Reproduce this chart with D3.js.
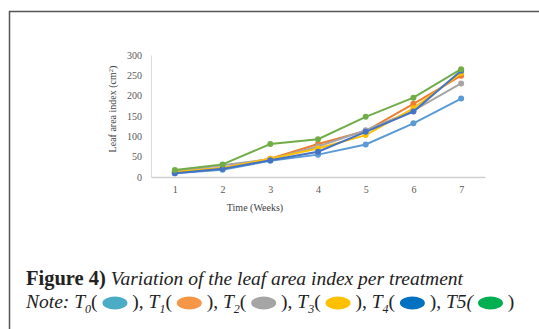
<!DOCTYPE html>
<html lang="en">
<head>
  <meta charset="UTF-8">
  <title>Leaf area index</title>
  <style>
    body { margin: 0; background: #fff; }
    svg { display: block; font-family: "Liberation Serif", "Times New Roman", serif; }
    .tick text { font-family: "Liberation Serif", serif; font-size: 10px; fill: #595959; }
    .caption { font-size: 19.5px; fill: #222; }
    .caption text { white-space: pre; }
  </style>
</head>
<body>
<svg width="539" height="329"></svg>

<script src="https://cdnjs.cloudflare.com/ajax/libs/d3/7.8.5/d3.min.js"></script>
<script>
  const weeks = ["1", "2", "3", "4", "5", "6", "7"];
  const yTicks = [0, 50, 100, 150, 200, 250, 300];

  const t0 = [9, 18, 40, 55, 80, 132, 193];
  const t1 = [13, 22, 45, 81, 113, 180, 249];
  const t2 = [14, 29, 44, 75, 115, 163, 230];
  const t3 = [12, 22, 45, 70, 103, 169, 256];
  const t4 = [9, 20, 41, 62, 111, 161, 261];
  const t5 = [17, 31, 81, 93, 148, 195, 265];

  const seriesNames = ["T0", "T1", "T2", "T3", "T4", "T5"];
  const lineColors = ["#5b9bd5", "#ed7d31", "#a5a5a5", "#ffc000", "#4472c4", "#70ad47"];
  const swatchColors = ["#4bacc6", "#f79646", "#a5a5a5", "#ffc000", "#0070c0", "#00b050"];

  const series = [t0, t1, t2, t3, t4, t5].map((vals, i) => ({
    name: seriesNames[i],
    color: lineColors[i],
    values: vals.map((v, j) => ({week: weeks[j], value: v}))
  }));

  const svg = d3.select("svg");

  // frame (left + top rule)
  svg.append("path")
    .attr("d", "M9.5,329V11.5H539")
    .attr("fill", "none")
    .attr("stroke", "#555")
    .attr("stroke-width", 1.5);

  const x = d3.scalePoint().domain(weeks).range([151, 485]).padding(0.5);
  const y = d3.scaleLinear().domain([0, 300]).range([177, 55]);

  // x axis
  const xAxis = svg.append("g")
    .attr("transform", "translate(0,177)")
    .call(d3.axisBottom(x).tickSize(0).tickPadding(9));
  xAxis.select(".domain").attr("stroke", "#d0d0d0").attr("stroke-width", 1.5);

  // y axis
  const yAxis = svg.append("g")
    .attr("transform", "translate(151,0)")
    .call(d3.axisLeft(y).tickValues(yTicks).tickSize(0).tickPadding(9));
  yAxis.select(".domain").attr("stroke", "#d9d9d9");

  // let the serif font from css apply to tick labels
  xAxis.attr("font-family", null).attr("font-size", null);
  yAxis.attr("font-family", null).attr("font-size", null);

  svg.append("text")
    .attr("transform", "translate(116,109) rotate(-90)")
    .attr("text-anchor", "middle")
    .attr("font-size", 10)
    .attr("fill", "#404040")
    .html("Leaf area index (cm<tspan dy='-3' font-size='6.5'>2</tspan><tspan dy='3'>)</tspan>");

  svg.append("text")
    .attr("x", 255)
    .attr("y", 211)
    .attr("text-anchor", "middle")
    .attr("font-size", 10)
    .attr("fill", "#404040")
    .text("Time (Weeks)");

  const line = d3.line()
    .x(d => x(d.week))
    .y(d => y(d.value));

  const g = svg.selectAll(".series")
    .data(series)
    .enter()
    .append("g")
    .attr("class", "series");

  g.append("path")
    .attr("d", d => line(d.values))
    .attr("fill", "none")
    .attr("stroke", d => d.color)
    .attr("stroke-width", 2);

  g.selectAll("circle")
    .data(d => d.values.map(v => ({...v, color: d.color})))
    .enter()
    .append("circle")
    .attr("cx", d => x(d.week))
    .attr("cy", d => y(d.value))
    .attr("r", 3)
    .attr("fill", d => d.color);

  // caption
  const cap = svg.append("text")
    .attr("class", "caption")
    .attr("x", 26)
    .attr("y", 285);
  cap.append("tspan").attr("font-weight", "bold").attr("font-size", 20.5).text("Figure 4)");
  cap.append("tspan").attr("font-style", "italic").text(" Variation of the leaf area index per treatment");

  // note line laid out piece by piece
  const note = svg.append("g").attr("class", "caption");
  let cx = 26;
  const baseY = 308;

  function addText(str, italic, size, dy) {
    const t = note.append("text")
      .attr("x", cx)
      .attr("y", baseY + (dy || 0))
      .attr("font-style", italic ? "italic" : null)
      .attr("font-size", size || null)
      .text(str);
    cx += t.node().getComputedTextLength();
  }

  function addSwatch(color, w) {
    note.append("ellipse")
      .attr("cx", cx + w / 2)
      .attr("cy", baseY - 5)
      .attr("rx", w / 2)
      .attr("ry", 6.5)
      .attr("fill", color);
    cx += w;
  }

  addText("Note: ", true);
  const subs = ["0", "1", "2", "3", "4"];
  seriesNames.forEach((name, i) => {
    if (i < 5) {
      addText("T", true);
      addText(subs[i], true, 12, 5);
      addText("( ", false);
    } else {
      addText("T5( ", true);
    }
    addSwatch(swatchColors[i], 25);
    addText(i < 5 ? " ), " : " )", false);
  });
</script>
</body>
</html>
